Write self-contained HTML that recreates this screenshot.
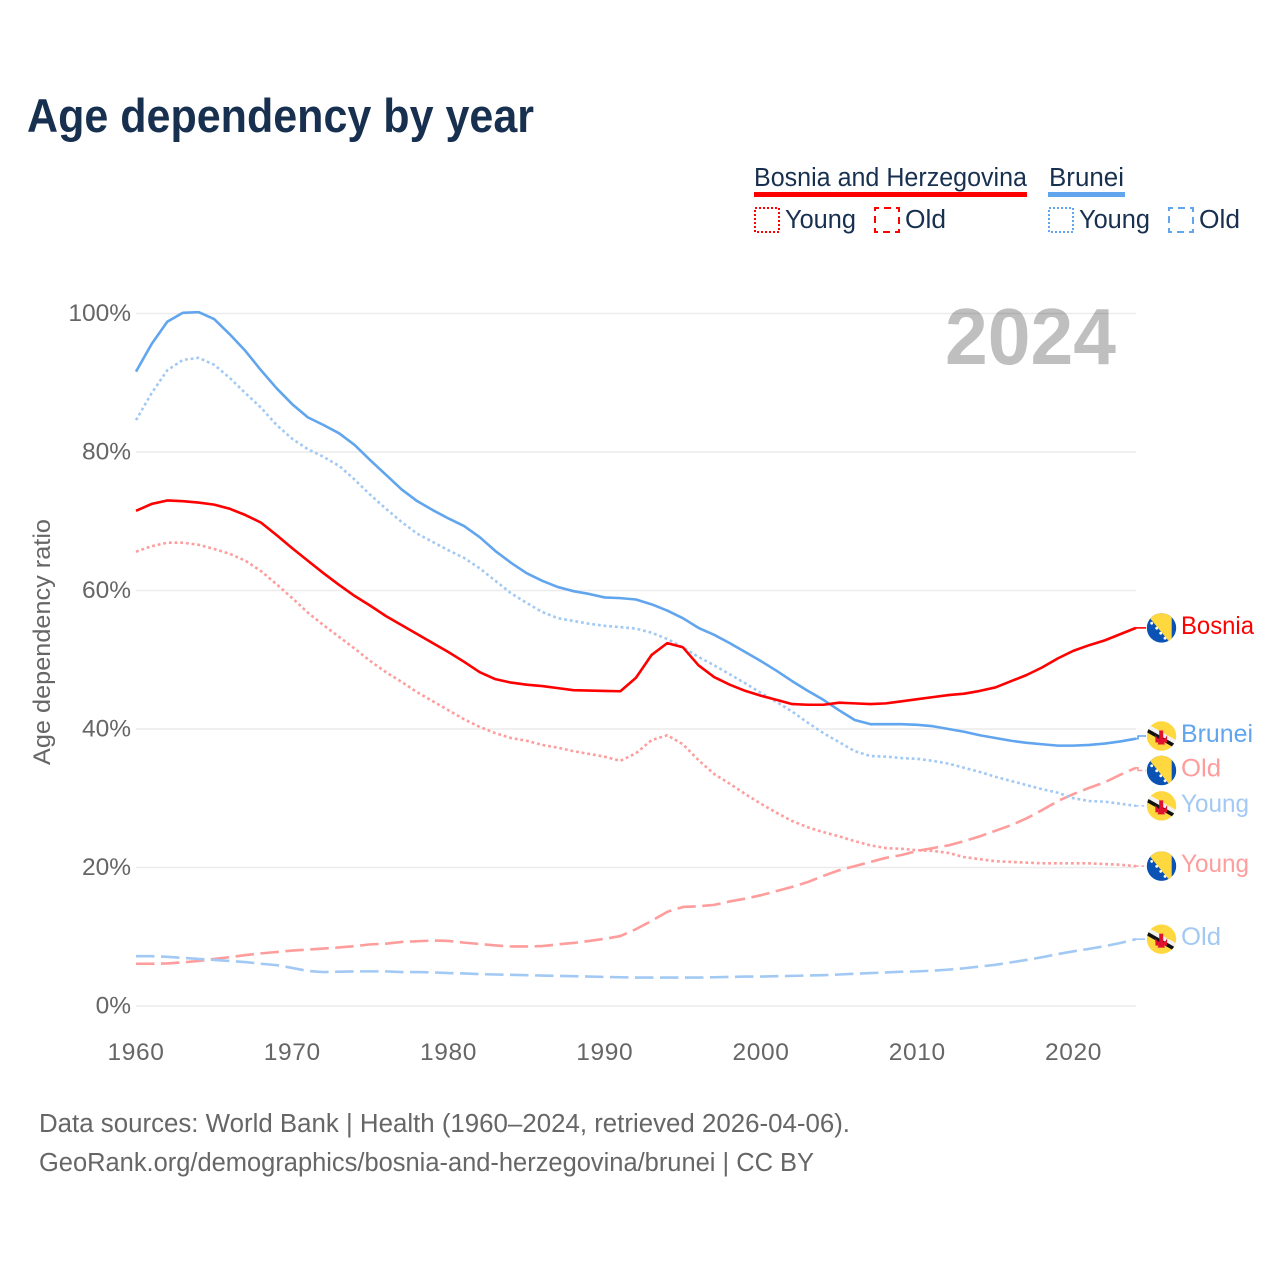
<!DOCTYPE html>
<html lang="en">
<head>
<meta charset="utf-8">
<title>Age dependency by year</title>
<style>
html,body{margin:0;padding:0;background:#fff;}
svg{display:block;font-family:"Liberation Sans",sans-serif;}
</style>
</head>
<body>
<svg id="chart" width="1280" height="1280" viewBox="0 0 1280 1280" xmlns="http://www.w3.org/2000/svg">
  <rect x="0" y="0" width="1280" height="1280" fill="#ffffff"/>
  <text x="27" y="132" font-size="47" font-weight="700" fill="#18304f" textLength="507" lengthAdjust="spacingAndGlyphs">Age dependency by year</text>

  <g>
    <g>
      <text x="754" y="186" font-size="25.5" fill="#18304f" textLength="273" lengthAdjust="spacingAndGlyphs">Bosnia and Herzegovina</text>
      <rect x="754" y="192" width="273" height="5" fill="#ff0000"/>
      <rect x="755" y="208" width="24" height="24" fill="none" stroke="#ff0000" stroke-width="2" stroke-dasharray="2 2"/>
      <text x="785" y="228" font-size="25.5" fill="#18304f" textLength="71" lengthAdjust="spacingAndGlyphs">Young</text>
      <rect x="875" y="208" width="24" height="24" fill="none" stroke="#ff0000" stroke-width="2" stroke-dasharray="7 5" stroke-dashoffset="3"/>
      <text x="905" y="228" font-size="25.5" fill="#18304f" textLength="41" lengthAdjust="spacingAndGlyphs">Old</text>
    </g>
    <g>
      <text x="1049" y="186" font-size="25.5" fill="#18304f" textLength="75" lengthAdjust="spacingAndGlyphs">Brunei</text>
      <rect x="1048" y="192" width="77" height="5" fill="#60a5ee"/>
      <rect x="1049" y="208" width="24" height="24" fill="none" stroke="#60a5ee" stroke-width="2" stroke-dasharray="2 2"/>
      <text x="1079" y="228" font-size="25.5" fill="#18304f" textLength="71" lengthAdjust="spacingAndGlyphs">Young</text>
      <rect x="1169" y="208" width="24" height="24" fill="none" stroke="#60a5ee" stroke-width="2" stroke-dasharray="7 5" stroke-dashoffset="3"/>
      <text x="1199" y="228" font-size="25.5" fill="#18304f" textLength="41" lengthAdjust="spacingAndGlyphs">Old</text>
    </g>
  </g>

  <g id="grid"></g>
  <g id="yticks"></g>
  <g id="xticks"></g>
  <text transform="translate(50 642) rotate(-90)" text-anchor="middle" font-size="24" fill="#666666" textLength="246" lengthAdjust="spacingAndGlyphs">Age dependency ratio</text>
  <text x="945" y="364" font-size="80" font-weight="700" fill="#000000" fill-opacity="0.25" textLength="171" lengthAdjust="spacingAndGlyphs">2024</text>

  <g id="series"></g>
  <g id="endlabels"></g>

  <text x="39" y="1132" font-size="25.5" fill="#666666" textLength="811" lengthAdjust="spacingAndGlyphs">Data sources: World Bank | Health (1960–2024, retrieved 2026-04-06).</text>
  <text x="39" y="1171" font-size="25.5" fill="#666666" textLength="775" lengthAdjust="spacingAndGlyphs">GeoRank.org/demographics/bosnia-and-herzegovina/brunei | CC BY</text>
</svg>
<script>
const startYear = 1960;
const endYear = 2024;
const xTickYears = [1960, 1970, 1980, 1990, 2000, 2010, 2020];
const yTickValues = [0, 20, 40, 60, 80, 100];

const bruneiTotal = [91.6,95.6,98.8,100.1,100.2,99.2,97,94.6,91.8,89.2,86.9,85,83.9,82.7,81,78.8,76.7,74.6,72.9,71.6,70.4,69.3,67.7,65.7,64,62.5,61.4,60.5,59.9,59.5,59,58.9,58.7,58,57.1,56,54.6,53.6,52.4,51.1,49.8,48.4,46.9,45.5,44.2,42.7,41.3,40.7,40.7,40.7,40.6,40.4,40,39.6,39.1,38.7,38.3,38,37.8,37.6,37.6,37.7,37.9,38.2,38.6];
const bruneiYoung = [84.6,88.5,91.8,93.3,93.6,92.6,90.7,88.5,86.4,83.9,81.9,80.4,79.3,78,76,73.8,71.8,69.9,68.2,67,65.8,64.7,63.2,61.4,59.6,58.2,56.9,56,55.6,55.2,54.9,54.7,54.5,53.9,53,51.8,50.4,49.2,47.9,46.6,45.2,43.9,42.5,40.9,39.4,38.1,36.8,36.1,36,35.8,35.7,35.4,35,34.4,33.8,33.1,32.5,31.9,31.3,30.8,30,29.6,29.5,29.2,28.9];
const bruneiOld = [7.2,7.2,7.1,6.95,6.8,6.65,6.5,6.35,6.1,5.9,5.5,5.05,4.9,4.95,5,5,5,4.9,4.9,4.85,4.75,4.7,4.6,4.55,4.5,4.45,4.4,4.35,4.3,4.25,4.2,4.15,4.1,4.1,4.1,4.1,4.1,4.15,4.2,4.25,4.25,4.3,4.35,4.4,4.45,4.55,4.65,4.75,4.85,4.95,5,5.1,5.25,5.45,5.7,5.95,6.3,6.65,7.05,7.5,7.9,8.25,8.65,9.1,9.65];
const bosniaTotal = [71.5,72.5,73,72.9,72.7,72.4,71.8,70.9,69.8,68,66.1,64.3,62.5,60.8,59.2,57.8,56.3,55,53.7,52.4,51.1,49.7,48.2,47.2,46.7,46.4,46.2,45.9,45.6,45.55,45.5,45.45,47.4,50.7,52.4,51.8,49.2,47.5,46.4,45.5,44.8,44.2,43.6,43.5,43.5,43.8,43.7,43.6,43.7,44,44.3,44.6,44.9,45.1,45.5,46,46.9,47.8,48.9,50.2,51.3,52.1,52.8,53.7,54.6];
const bosniaYoung = [65.6,66.4,66.9,66.9,66.6,66,65.3,64.3,62.8,60.9,58.9,56.8,55,53.3,51.6,49.8,48.2,46.8,45.3,44,42.7,41.4,40.3,39.4,38.7,38.3,37.7,37.3,36.8,36.4,36,35.4,36.5,38.4,39.1,37.8,35.5,33.5,32.1,30.6,29.2,27.9,26.7,25.8,25.1,24.5,23.8,23.2,22.8,22.7,22.5,22.4,22.1,21.5,21.2,20.9,20.8,20.7,20.6,20.6,20.6,20.6,20.5,20.4,20.2];
const bosniaOld = [6.1,6.1,6.15,6.3,6.5,6.8,7.05,7.35,7.6,7.8,8,8.15,8.3,8.45,8.65,8.9,9,9.25,9.35,9.45,9.4,9.15,8.95,8.75,8.6,8.6,8.65,8.9,9.1,9.4,9.7,10.1,11.1,12.3,13.6,14.3,14.4,14.6,15.1,15.5,16,16.6,17.2,17.9,18.8,19.6,20.2,20.8,21.4,21.8,22.4,22.8,23.2,23.8,24.5,25.3,26.1,27.1,28.3,29.6,30.6,31.5,32.3,33.4,34.4];

const seriesIds = ['bosnia-young','bosnia-old','brunei-old','brunei-young','brunei-total','bosnia-total'];
const seriesValues = [bosniaYoung, bosniaOld, bruneiOld, bruneiYoung, bruneiTotal, bosniaTotal];
const seriesLabels = ['Young','Old','Old','Young','Brunei','Bosnia'];
const seriesCountry = ['ba','ba','bn','bn','bn','ba'];
const seriesKind = ['young','old','old','young','total','total'];

const NS = 'http://www.w3.org/2000/svg';
const plotLeft = 136, plotRight = 1136, plotBottom = 1006, plotTop = 313.5;
function xScale(year){ return plotLeft + (year - startYear) * (plotRight - plotLeft) / (endYear - startYear); }
function yScale(v){ return plotBottom - v * (plotBottom - plotTop) / 100; }
function make(tag, parent, attrs){
  const el = document.createElementNS(NS, tag);
  for (const k in attrs) el.setAttribute(k, attrs[k]);
  parent.appendChild(el);
  return el;
}
const colorOf = {ba:{total:'#ff0000',light:'#ff9c9c'}, bn:{total:'#60a5ee',light:'#a2c9f4'}};
function styleOf(i){
  const c = colorOf[seriesCountry[i]];
  if (seriesKind[i] === 'total') return {stroke:c.total, dash:'none'};
  if (seriesKind[i] === 'young') return {stroke:c.light, dash:'2.8 2.9'};
  return {stroke:c.light, dash:'18.5 6.5'};
}
function labelWidth(name){
  if (name === 'Bosnia') return 73;
  if (name === 'Brunei') return 72;
  if (name === 'Old') return 40;
  return 68;
}

const gridG = document.getElementById('grid');
const yG = document.getElementById('yticks');
yTickValues.forEach(function(v){
  const line = make('line', gridG, {x1:plotLeft, x2:plotRight, y1:yScale(v), y2:yScale(v), stroke:'#ececec', 'stroke-width':1.5});
  
  
  const t = make('text', yG, {x:131, y:yScale(v)+7.7, 'text-anchor':'end', 'font-size':24.5, fill:'#666666'});
  t.textContent = v + '%';
  
  
});
const xG = document.getElementById('xticks');
xTickYears.forEach(function(yr){
  const t = make('text', xG, {x:xScale(yr), y:1060, 'text-anchor':'middle', 'font-size':24.5, fill:'#666666', 'letter-spacing':'0.6'});
  t.textContent = yr;
  
  
});

const sG = document.getElementById('series');
seriesValues.forEach(function(vals, i){
  const st = styleOf(i);
  const d = vals.map(function(v, k){ return (k ? 'L' : 'M') + xScale(startYear + k).toFixed(2) + ' ' + yScale(v).toFixed(2); }).join(' ');
  const p = make('path', sG, {d:d, fill:'none', stroke:st.stroke, 'stroke-width':2.6, 'stroke-dasharray':st.dash, 'stroke-linejoin':'round'});
  
  
});

/* end labels: sorted by end value, pushed apart to avoid overlap */
const minGap = 34.5;
const order = seriesValues.map(function(v, i){ return {i:i, y0:yScale(v[v.length-1]), y:yScale(v[v.length-1])}; }).sort(function(a,b){ return a.y0-b.y0; });
for (let pass = 0; pass < 8; pass++){
  for (let k = 1; k < order.length; k++){
    const gap = order[k].y - order[k-1].y;
    if (gap < minGap){
      const shift = (minGap - gap) / 2;
      order[k-1].y -= shift;
      order[k].y += shift;
    }
  }
}
const eG = document.getElementById('endlabels');
function drawFlag(g, country){
  const clipId = 'clip-' + g.getAttribute('id');
  const cp = make('clipPath', g, {id:clipId});
  make('circle', cp, {cx:0, cy:0, r:14.7});
  const inner = make('g', g, {'clip-path':'url(#' + clipId + ')'});
  if (country === 'ba'){
    make('circle', inner, {cx:0, cy:0, r:15, fill:'#0a52b4'});
    make('polygon', inner, {points:'-16.7,-16 10.2,-16 10.2,16 9.5,16', fill:'#ffd83f'});
    [[-9.8,-4.7],[-4.8,0.3],[-0.8,5.3],[3.5,10.3]].forEach(function(s){
      make('circle', inner, {cx:s[0], cy:s[1], r:1.4, fill:'#ffffff'});
    });
  } else {
    make('circle', inner, {cx:0, cy:0, r:15, fill:'#ffd83f'});
    make('line', inner, {x1:-16, y1:-10.5, x2:16, y2:7.5, stroke:'#f2f2f2', 'stroke-width':4.5});
    make('line', inner, {x1:-16, y1:-6.5, x2:16, y2:11.5, stroke:'#111111', 'stroke-width':3.6});
    make('path', inner, {d:'M-6.3 -1 L-4 2 Q0 4.5 4 2 L5.7 -1 L5.5 6.5 L2.5 6.5 L3.5 8.5 L-4 8.5 L-3 6.5 L-6 6.5 Z', fill:'#e0102f'});
    make('rect', inner, {x:-2.3, y:-5.5, width:4, height:10, fill:'#e0102f'});
  }
}
order.forEach(function(o, n){
  const i = o.i, st = styleOf(i);
  const row = make('g', eG, {});
  
  
  const conn = make('path', row, {d:'M' + plotRight + ' ' + o.y0.toFixed(2) + ' H1138 V' + o.y.toFixed(2) + ' H1146', fill:'none', stroke:st.stroke, 'stroke-width':1.6, 'stroke-dasharray':seriesKind[i]==='total'?'none':(seriesKind[i]==='young'?'2.6 3':'9 3')});
  
  
  const flag = make('g', row, {id:'flag-' + n, transform:'translate(1161.5 ' + o.y.toFixed(2) + ')'});
  
  
  drawFlag(flag, seriesCountry[i]);
  const t = make('text', row, {x:1181, y:(o.y+6).toFixed(2), 'font-size':25, fill:st.stroke, textLength:labelWidth(seriesLabels[i]), lengthAdjust:'spacingAndGlyphs'});
  t.textContent = seriesLabels[i];
  
  
});
</script>
</body>
</html>
